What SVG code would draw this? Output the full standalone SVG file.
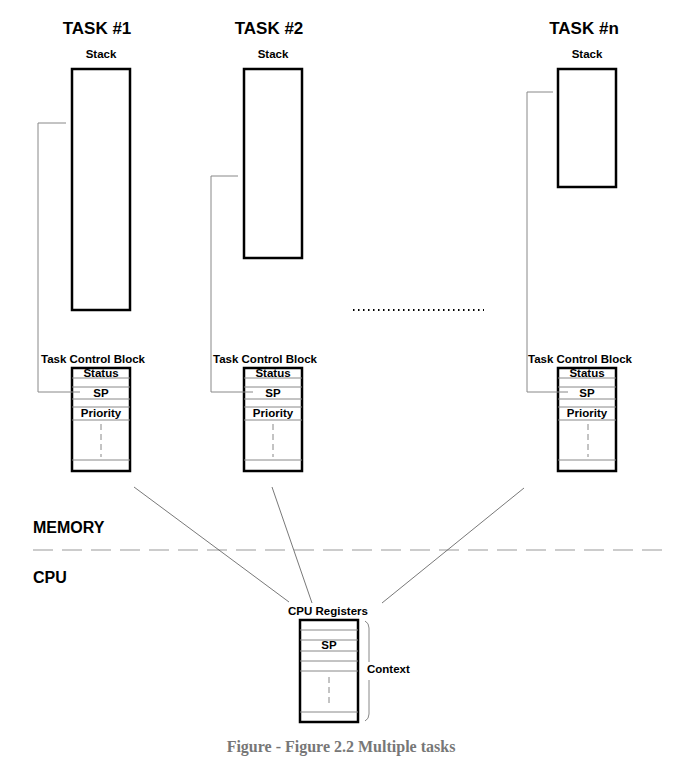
<svg xmlns="http://www.w3.org/2000/svg" width="683" height="766" viewBox="0 0 683 766">
<style>
.title{font-family:"Liberation Sans",Arial,sans-serif;font-weight:bold;font-size:17px;fill:#000;text-anchor:middle}
.lbl{font-family:"Liberation Sans",Arial,sans-serif;font-weight:bold;font-size:11.5px;fill:#000}
.mid{text-anchor:middle}
.big{font-family:"Liberation Sans",Arial,sans-serif;font-weight:bold;font-size:16px;fill:#000}
.box{fill:#fff;stroke:#000;stroke-width:2.5}
.row{stroke:#888;stroke-width:1;fill:none}
.vd{stroke:#888;stroke-width:1;stroke-dasharray:6,4;fill:none}
.conn{stroke:#888;stroke-width:1;fill:none}
.thin{stroke:#555;stroke-width:0.8;fill:none}
.cap{font-family:"Liberation Serif","Times New Roman",serif;font-weight:bold;font-size:16px;fill:#777;text-anchor:middle}
</style>
<rect width="683" height="766" fill="#fff"/>

<g id="task1">
<text class="title" x="97" y="34">TASK #1</text>
<text class="lbl mid" x="101" y="58">Stack</text>
<rect class="box" x="72" y="69" width="58" height="241"/>
</g>
<g id="task2">
<text class="title" x="269" y="34">TASK #2</text>
<text class="lbl mid" x="273" y="58">Stack</text>
<rect class="box" x="244" y="69" width="58" height="189"/>
</g>
<g id="taskn">
<text class="title" x="584" y="34">TASK #n</text>
<text class="lbl mid" x="587" y="58">Stack</text>
<rect class="box" x="558" y="69" width="58" height="118"/>
</g>

<g id="tcb1">
<text class="lbl" x="41" y="363">Task Control Block</text>
<rect class="box" x="72" y="368" width="58" height="103"/>
<path class="row" d="M72 378H130M72 387H130M72 399H130M72 407H130M72 420H130M72 460H130"/>
<path class="vd" d="M101 424V457"/>
<text class="lbl mid" x="101" y="377">Status</text>
<text class="lbl mid" x="101" y="397">SP</text>
<text class="lbl mid" x="101" y="417">Priority</text>
</g>
<g id="tcb2">
<text class="lbl" x="213" y="363">Task Control Block</text>
<rect class="box" x="244" y="368" width="58" height="103"/>
<path class="row" d="M244 378H302M244 387H302M244 399H302M244 407H302M244 420H302M244 460H302"/>
<path class="vd" d="M273 424V457"/>
<text class="lbl mid" x="273" y="377">Status</text>
<text class="lbl mid" x="273" y="397">SP</text>
<text class="lbl mid" x="273" y="417">Priority</text>
</g>
<g id="tcbn">
<text class="lbl" x="528" y="363">Task Control Block</text>
<rect class="box" x="558" y="368" width="58" height="103"/>
<path class="row" d="M558 378H616M558 387H616M558 399H616M558 407H616M558 420H616M558 460H616"/>
<path class="vd" d="M588 424V457"/>
<text class="lbl mid" x="587" y="377">Status</text>
<text class="lbl mid" x="587" y="397">SP</text>
<text class="lbl mid" x="587" y="417">Priority</text>
</g>

<g id="dots">
<line x1="353" y1="310" x2="484" y2="310" stroke="#000" stroke-width="2" stroke-dasharray="1.5,3.5"/>
</g>

<g id="cpu">
<text class="lbl mid" x="328" y="615">CPU Registers</text>
<rect class="box" x="300" y="620" width="58" height="102"/>
<path class="row" d="M300 630H358M300 640H358M300 651H358M300 661H358M300 671H358M300 712H358"/>
<path class="vd" d="M329 677V707"/>
<text class="lbl mid" x="329" y="649">SP</text>
<path class="conn" d="M365 621Q369 623 369 628V662M369 680V714Q369 719 365 721"/>
<text class="lbl" x="367" y="673">Context</text>
</g>

<g id="regions">
<text class="big" x="33" y="533">MEMORY</text>
<line x1="33" y1="550" x2="670" y2="550" stroke="#999" stroke-width="1" stroke-dasharray="20,9"/>
<text class="big" x="33" y="583">CPU</text>
</g>

<g id="connectors">
<path class="conn" d="M66 123H38V392H80"/>
<path class="conn" d="M238 176H211V392H253"/>
<path class="conn" d="M553 92H527V392H568"/>
<path class="thin" d="M134 487L289 602"/>
<path class="thin" d="M272 487L312 603"/>
<path class="thin" d="M524 488L382 603"/>
</g>

<text class="cap" x="341" y="752">Figure - Figure 2.2 Multiple tasks</text>
</svg>
